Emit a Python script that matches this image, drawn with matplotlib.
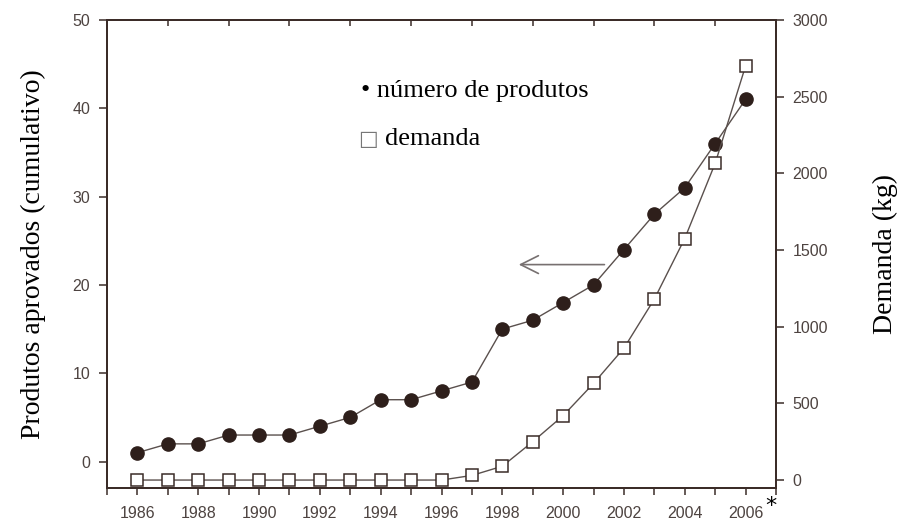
import matplotlib
matplotlib.use("Agg")
import matplotlib.pyplot as plt
from matplotlib.ticker import MultipleLocator

# data
anos = list(range(1986, 2007))
produtos = [1, 2, 2, 3, 3, 3, 4, 5, 7, 7, 8, 9, 15, 16, 18, 20, 24, 28, 31, 36, 41]
demanda = [0, 0, 0, 0, 0, 0, 0, 0, 0, 0, 0, 30, 90, 250, 420, 630, 860, 1180,
           1575, 2065, 2700]
rotulos_x = [str(a) for a in range(1986, 2007, 2)]
anos_topo = list(range(1987, 2007, 2))

escuro = "#3b2c28"
cinza = "#4d4340"
serif = "Liberation Serif"
sans = "Liberation Sans"

fig = plt.figure(figsize=(8.98, 5.22), dpi=100)
ax = fig.add_axes([0.1192, 0.0651, 0.7449, 0.8966])
ax2 = ax.twinx()
ax3 = ax.twiny()  # only for the short inward ticks on the top spine

ax.plot(anos, produtos, color="#5a504d", lw=1.0, marker="o", ms=9.5,
        mfc="#2e1f1b", mec="#2e1f1b", zorder=3)
ax2.plot(anos, demanda, color="#5a504d", lw=1.0, marker="s", ms=8,
         mfc="white", mec=escuro, mew=1.1, zorder=3)

ax.set_xlim(1985, 2007)
ax.set_ylim(-3, 50)
ax2.set_ylim(-52, 3000)
ax3.set_xlim(1985, 2007)

ax.set_xticks(range(1986, 2007, 2))
ax.set_xticklabels(rotulos_x)
ax.xaxis.set_minor_locator(MultipleLocator(1))
ax.yaxis.set_major_locator(MultipleLocator(10))
ax2.yaxis.set_major_locator(MultipleLocator(500))
ax3.set_xticks(anos_topo)
ax3.tick_params(axis="x", direction="in", length=4, width=1.1, color=escuro,
                labeltop=False)

for a in (ax, ax2, ax3):
    for s in a.spines.values():
        s.set_color(escuro)
        s.set_linewidth(1.3)
ax.tick_params(axis="both", which="both", direction="out", color=escuro,
               width=1.1, labelcolor=cinza, labelsize=11.5)
ax.tick_params(axis="y", length=6, pad=6)
ax.tick_params(axis="x", which="major", length=5, pad=8)
ax.tick_params(axis="x", which="minor", length=5)
ax2.tick_params(axis="y", direction="out", length=6, width=1.1, color=escuro,
                labelcolor=cinza, labelsize=11.5, pad=6)
for lab in ax.get_xticklabels() + ax.get_yticklabels() + ax2.get_yticklabels():
    lab.set_family(sans)

ax.set_ylabel("Produtos aprovados (cumulativo)", family=serif, fontsize=20,
              color="black")
ax.yaxis.set_label_coords(-0.092, 0.5)
ax2.set_ylabel("Demanda (kg)", family=serif, fontsize=20, color="black")
ax2.yaxis.set_label_coords(1.145, 0.5)

ax.text(0.38, 0.848, "• número de produtos", transform=ax.transAxes,
        family=serif, fontsize=19, va="center")
ax.text(0.39, 0.745, "□", transform=ax.transAxes, family="DejaVu Sans",
        fontsize=15, color="#777777", va="center", ha="center")
ax.text(0.415, 0.745, "demanda", transform=ax.transAxes, family=serif,
        fontsize=19, va="center")

ax.annotate("", xy=(1998.45, 22.3), xytext=(2001.45, 22.3),
            arrowprops=dict(arrowstyle="->", color="#777070", lw=1.2,
                            mutation_scale=32))

fig.text(771 / 898, 1 - 496 / 522, "*", family="DejaVu Sans", fontsize=16,
         ha="center", va="top")

fig.savefig("out.png", dpi=100)
